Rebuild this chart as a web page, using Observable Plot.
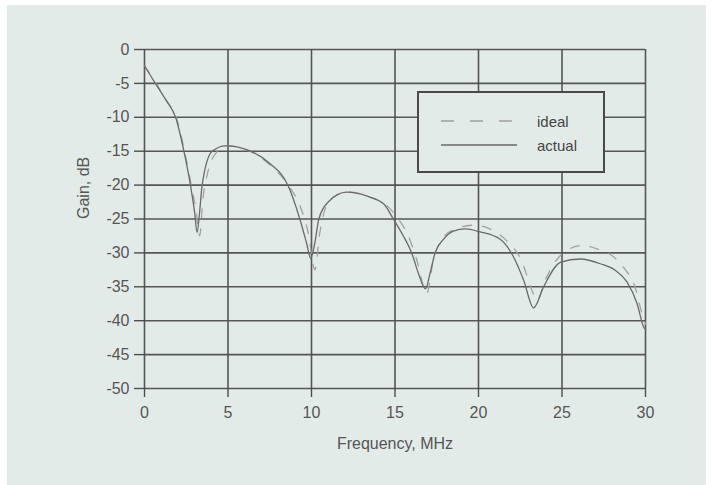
<!DOCTYPE html>
<html>
<head>
<meta charset="utf-8">
<script src="https://cdn.jsdelivr.net/npm/d3@7"></script>
<script src="https://cdn.jsdelivr.net/npm/@observablehq/plot@0.6"></script>
<style>
  html, body { margin: 0; padding: 0; background: #ffffff; }
  #wrap { position: relative; width: 712px; height: 485px; overflow: hidden; font-family: "Liberation Sans", Arial, sans-serif; }
  #bg { position: absolute; left: 7px; top: 5px; width: 699px; height: 480px; background: #e3ebe9; }
  #chart { position: absolute; left: 0; top: 0; }
  #legend { position: absolute; left: 417px; top: 91px; width: 184px; height: 78px; border: 2px solid #4a4a4a; background: #e3ebe9; }
  #legend .row { position: absolute; left: 0; display: flex; align-items: center; font-size: 15px; color: #444; }
  #legend svg { display: block; }
</style>
</head>
<body>
<div id="wrap">
  <div id="bg"></div>
  <div id="chart"></div>
  <div id="legend"></div>
</div>
<script>
// Frequency (MHz) and gain (dB)
const freqIdeal = [0, 0.7, 1.3, 1.9, 2.4, 2.8, 3.1, 3.3, 3.5, 3.8, 4.3, 5.0, 6.3, 7.5, 8.6, 9.3, 9.8, 10.2, 10.5, 10.9, 11.5, 12.2, 13.5, 14.5, 15.2, 15.8, 16.3, 16.9, 17.3, 17.8, 18.6, 19.8, 20.8, 21.6, 22.6, 23.2, 23.5, 24.0, 24.6, 25.3, 26.2, 27.2, 28.1, 28.8, 29.3, 29.8, 30.0];
const gainIdeal = [-2.4, -5, -7.5, -10, -15, -20, -24, -27.5, -22, -18, -15.2, -14.2, -15, -17, -20, -23, -27, -32.5, -27, -23, -21.5, -21, -21.8, -23, -25, -27.5, -31, -36, -31, -28, -26.5, -25.9, -26.6, -28, -31.3, -35.5, -37, -34, -31.3, -29.6, -28.9, -29.5, -30.6, -32.5, -34.5, -39, -40.5];

const freqActual = [0, 0.65, 1.3, 1.86, 2.36, 2.75, 3.0, 3.15, 3.3, 3.45, 4.05, 4.85, 6.35, 7.5, 8.58, 9.3, 9.7, 9.95, 10.2, 10.44, 11.0, 12.1, 13.3, 14.33, 14.9, 15.5, 16.0, 16.4, 16.83, 17.1, 17.4, 17.9, 18.5, 19.2, 20.1, 21.3, 22.1, 22.7, 23.3, 23.9, 24.9, 26.1, 27.3, 28.2, 28.9, 29.5, 29.9, 30.0];
const gainActual = [-2.4, -5, -7.5, -10, -15, -20, -24, -27, -24, -20, -15, -14.2, -15, -16.8, -20, -25, -28.5, -30.8, -28.5, -25, -22.5, -21.05, -21.6, -22.8, -25, -27.5, -30, -33, -35.3, -33, -30, -28, -26.8, -26.45, -26.9, -28, -30.6, -34, -38.1, -35, -31.4, -30.9, -31.6, -32.6, -34.3, -37.5, -41, -41.3];

const xTicks = [0, 5, 10, 15, 20, 25, 30];
const yTicks = [0, -5, -10, -15, -20, -25, -30, -35, -40, -45, -50];
const seriesNames = ["ideal", "actual"];
const xTitle = "Frequency, MHz";
const yTitle = "Gain, dB";

const ideal = freqIdeal.map((f, i) => ({f, g: gainIdeal[i]}));
const actual = freqActual.map((f, i) => ({f, g: gainActual[i]}));

const gridStyle = {stroke: "#4e4e4e", strokeOpacity: 0.95, strokeWidth: 1.6};

const chart = Plot.plot({
  width: 712,
  height: 485,
  marginLeft: 144,
  marginRight: 67,
  marginTop: 49,
  marginBottom: 97,
  style: {background: "transparent", fontFamily: "'Liberation Sans', Arial, sans-serif", fontSize: "16px", color: "#555"},
  x: {domain: [0, 30]},
  y: {domain: [-50, 0]},
  marks: [
    Plot.gridX(xTicks, gridStyle),
    Plot.gridY(yTicks, gridStyle),
    Plot.axisX(xTicks, {tickSize: 9, tickPadding: 9, label: null, stroke: "#4e4e4e", strokeWidth: 1.4, fill: "#555", fontSize: 16, tickFormat: d => String(d)}),
    Plot.axisY(yTicks, {tickSize: 10, tickPadding: 5, label: null, stroke: "#4e4e4e", strokeWidth: 1.4, fill: "#555", fontSize: 16, tickFormat: d => String(d)}),
    Plot.line(ideal, {x: "f", y: "g", stroke: "#a0a0a0", strokeWidth: 1.3, strokeDasharray: "9,11", curve: "monotone-x"}),
    Plot.line(actual, {x: "f", y: "g", stroke: "#6a6a6a", strokeWidth: 1.3, curve: "monotone-x"}),
    Plot.text([xTitle], {frameAnchor: "bottom", dy: 60, fontSize: 16, fill: "#555"}),
    Plot.text([yTitle], {frameAnchor: "left", dx: -61, rotate: -90, fontSize: 16, fill: "#555"})
  ]
});
document.getElementById("chart").appendChild(chart);

// Legend
const legend = document.getElementById("legend");
const rows = [
  {name: seriesNames[0], top: 28, color: "#a0a0a0", dash: "13,16"},
  {name: seriesNames[1], top: 52, color: "#6a6a6a", dash: null}
];
rows.forEach(r => {
  const row = document.createElement("div");
  row.className = "row";
  row.style.top = (r.top - 9) + "px";
  row.style.height = "18px";
  const ns = "http://www.w3.org/2000/svg";
  const s = document.createElementNS(ns, "svg");
  s.setAttribute("width", "118");
  s.setAttribute("height", "18");
  const l = document.createElementNS(ns, "line");
  l.setAttribute("x1", "22"); l.setAttribute("x2", "98");
  l.setAttribute("y1", "9"); l.setAttribute("y2", "9");
  l.setAttribute("stroke", r.color);
  l.setAttribute("stroke-width", "1.4");
  if (r.dash) l.setAttribute("stroke-dasharray", r.dash);
  s.appendChild(l);
  row.appendChild(s);
  const t = document.createElement("span");
  t.textContent = r.name;
  row.appendChild(t);
  legend.appendChild(row);
});
</script>
</body>
</html>
